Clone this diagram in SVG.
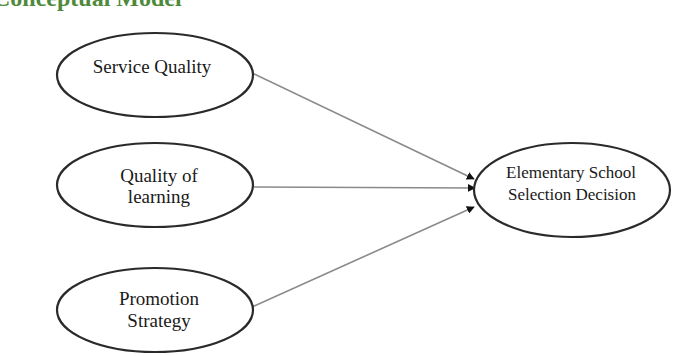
<svg xmlns="http://www.w3.org/2000/svg" width="697" height="356" viewBox="0 0 697 356">
<defs>
<style>
.node ellipse{fill:#fff;stroke:#2a2a2a;stroke-width:2.2}
.lbl{font-family:"Liberation Serif","Times New Roman",serif;font-size:19px;fill:#1a1a1a;text-anchor:middle}
.lbl2{font-family:"Liberation Serif","Times New Roman",serif;font-size:17px;fill:#1a1a1a;text-anchor:middle}
.edge{stroke:#8a8a8a;stroke-width:1.6;fill:none;marker-end:url(#ah)}
.title{font-family:"Liberation Serif","Times New Roman",serif;font-weight:bold;font-size:24px;fill:#4e8a3a}
</style>
<marker id="ah" viewBox="0 0 10 10" refX="9" refY="5" markerWidth="5" markerHeight="5" orient="auto" markerUnits="strokeWidth">
<path d="M0,0 L10,5 L0,10 z" fill="#111"/>
</marker>
</defs>
<rect width="697" height="356" fill="#fff"/>
<text class="title" x="-7" y="6">Conceptual Model</text>
<g id="connectors">
<line class="edge" x1="250" y1="72" x2="474" y2="179"/>
<line class="edge" x1="254" y1="187" x2="475" y2="188"/>
<line class="edge" x1="252" y1="307" x2="474" y2="207"/>
</g>
<g id="service-quality" class="node">
<ellipse cx="155" cy="75" rx="98" ry="42"/>
<text class="lbl" x="152" y="73">Service Quality</text>
</g>
<g id="quality-of-learning" class="node">
<ellipse cx="155" cy="185" rx="98" ry="42"/>
<text class="lbl" x="159" y="182">Quality of</text>
<text class="lbl" x="159" y="203">learning</text>
</g>
<g id="promotion-strategy" class="node">
<ellipse cx="155" cy="310" rx="98" ry="42"/>
<text class="lbl" x="159" y="305">Promotion</text>
<text class="lbl" x="159" y="327">Strategy</text>
</g>
<g id="selection-decision" class="node">
<ellipse cx="572" cy="190" rx="98" ry="47"/>
<text class="lbl2" x="571" y="178">Elementary School</text>
<text class="lbl2" x="572" y="200">Selection Decision</text>
</g>
</svg>
